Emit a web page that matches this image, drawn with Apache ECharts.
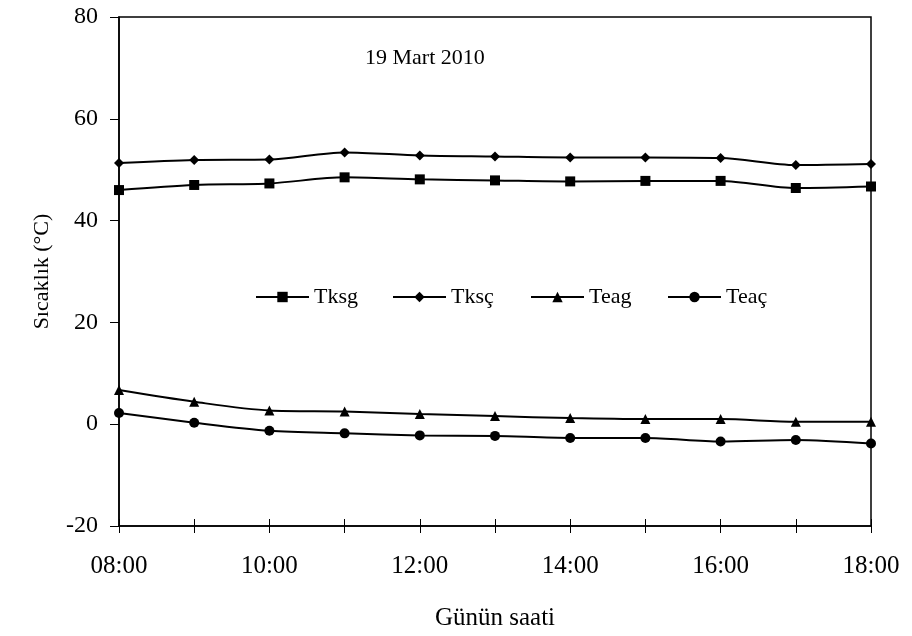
<!DOCTYPE html>
<html>
<head>
<meta charset="utf-8">
<script src="https://cdn.jsdelivr.net/npm/echarts@6/dist/echarts.min.js"></script>
<style>
  html, body { margin: 0; padding: 0; background: #fff; }
  #chart { width: 912px; height: 636px; }
</style>
</head>
<body>
<div id="chart"></div>
<script>
// Hourly readings, 19 March 2010
const hours = ['08:00', '09:00', '10:00', '11:00', '12:00', '13:00', '14:00', '15:00', '16:00', '17:00', '18:00'];
const tksg = [46.0, 47.0, 47.3, 48.5, 48.1, 47.9, 47.7, 47.8, 47.8, 46.4, 46.7];
const tksc = [51.3, 51.9, 52.0, 53.4, 52.8, 52.6, 52.4, 52.4, 52.3, 50.9, 51.1];
const teag = [6.7, 4.4, 2.7, 2.5, 2.0, 1.6, 1.2, 1.0, 1.0, 0.5, 0.5];
const teac = [2.2, 0.3, -1.3, -1.8, -2.2, -2.3, -2.7, -2.7, -3.4, -3.1, -3.8];
const seriesNames = ['Tksg', 'Tksç', 'Teag', 'Teaç'];
const yTicks = { min: -20, max: 80, step: 20 };

const FONT = '"Liberation Serif", "Times New Roman", serif';
const chart = echarts.init(document.getElementById('chart'));

function lineSeries(name, data, symbol, size) {
  return {
    name: name,
    type: 'line',
    data: data,
    smooth: 0.3,
    symbol: symbol,
    symbolSize: size,
    showAllSymbol: true,
    lineStyle: { color: '#000', width: 2 },
    itemStyle: { color: '#000' },
    emphasis: { disabled: true }
  };
}

// one legend block per series so each entry sits at its own spot
const legendLefts = [250, 387, 525, 662];
const legends = seriesNames.map((n, i) => ({
  left: legendLefts[i], top: 281,
  itemWidth: 53, itemHeight: 13, itemGap: 0,
  data: [n],
  selectedMode: false,
  textStyle: { fontFamily: FONT, fontSize: 22, color: '#000', padding: [0, 0, 0, 0] }
}));

chart.setOption({
  animation: false,
  backgroundColor: '#fff',
  textStyle: { fontFamily: FONT, color: '#000' },
  grid: {
    left: 119, right: 41, top: 17, bottom: 108,
    show: true, borderColor: '#000', borderWidth: 1.5, backgroundColor: 'transparent'
  },
  title: {
    text: '19 Mart 2010',
    left: 360, top: 42,
    textStyle: { fontFamily: FONT, fontSize: 22, fontWeight: 'normal', color: '#000' }
  },
  legend: legends,
  xAxis: [
    {
      type: 'category',
      data: hours,
      boundaryGap: false,
      name: 'Günün saati',
      nameLocation: 'middle',
      nameGap: 80,
      nameTextStyle: { fontFamily: FONT, fontSize: 25, color: '#000' },
      axisLine: { onZero: false, lineStyle: { color: '#000', width: 1.5 } },
      axisTick: { show: true, interval: 0, length: 7, lineStyle: { color: '#000', width: 1 } },
      axisLabel: { interval: 1, margin: 28, fontFamily: FONT, fontSize: 25, color: '#000' },
      splitLine: { show: false }
    },
    {
      type: 'category',
      data: hours,
      boundaryGap: false,
      position: 'bottom',
      axisLine: { show: false, onZero: false },
      axisTick: { show: true, inside: true, interval: 0, length: 7, lineStyle: { color: '#000', width: 1 } },
      axisLabel: { show: false },
      splitLine: { show: false }
    }
  ],
  yAxis: {
    type: 'value',
    min: yTicks.min, max: yTicks.max, interval: yTicks.step,
    name: 'Sıcaklık (°C)',
    nameLocation: 'middle',
    nameGap: 66,
    nameTextStyle: { fontFamily: FONT, fontSize: 22, color: '#000' },
    axisLine: { show: true, lineStyle: { color: '#000', width: 1.5 } },
    axisTick: { show: true, length: 9, lineStyle: { color: '#000', width: 1 } },
    axisLabel: { margin: 21, fontFamily: FONT, fontSize: 24, color: '#000' },
    splitLine: { show: false }
  },
  series: [
    lineSeries('Tksg', tksg, 'rect', 10),
    lineSeries('Tksç', tksc, 'diamond', 10),
    lineSeries('Teag', teag, 'triangle', 10),
    lineSeries('Teaç', teac, 'circle', 10)
  ]
});
</script>
</body>
</html>
